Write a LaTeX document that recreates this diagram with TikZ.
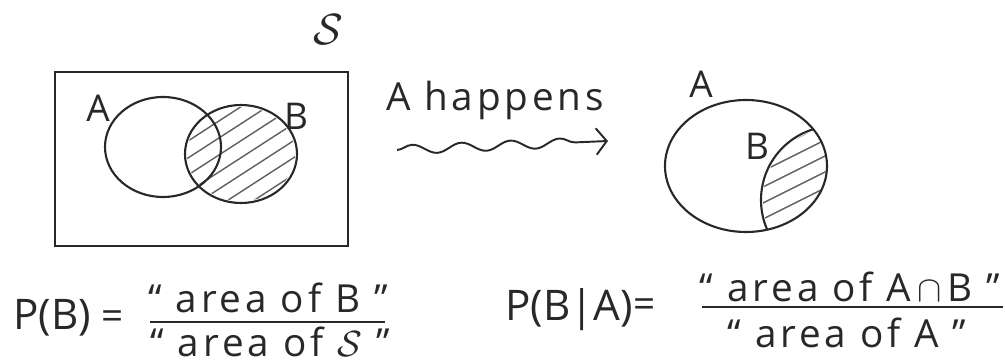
\documentclass[tikz,border=0pt]{standalone}
\usepackage{fontspec}
\setmainfont{Open Sans}
\usepackage{xcolor}
\usepackage{tikz}
\usetikzlibrary{arrows.meta,positioning,decorations.pathmorphing,calc}
\definecolor{pencil}   {RGB}{40,40,40}
\definecolor{hatchgray}{RGB}{95,95,95}
\tikzset{
  setline/.style  ={draw=pencil, line width=1.2pt},
  hatchline/.style={draw=hatchgray, line width=0.8pt},
  setlabel/.style ={font=\fontsize{21}{24}\selectfont, text=pencil, inner sep=0pt},
  handtxt/.style  ={font=\fontsize{22}{26}\selectfont\addfontfeature{LetterSpace=10},
                    text=pencil, inner sep=0pt},
  fracbar/.style  ={draw=pencil, line width=1pt},
  wavyarr/.style  ={draw=pencil, line width=1.1pt, decorate,
                    decoration={snake, amplitude=2.6pt, segment length=28pt, post length=8pt},
                    -{Straight Barb[length=6pt,width=15pt]}},
}

\begin{document}
\begin{tikzpicture}[x=0.02cm,y=-0.02cm]
  \useasboundingbox (0,0) rectangle (1005,364);
  %% sample space with A and B
  \node[setlabel, font=\fontsize{30}{32}\selectfont] (Slbl) at (328,30) {$\mathcal{S}$};
  \draw[setline] (55,72) rectangle (348,246);
  \coordinate (cA) at (163,147);
  \coordinate (cB) at (241,154);
  \begin{scope}
    \clip (cB) ellipse [x radius=54, y radius=47];
    \foreach \k in {0,...,10}
      \draw[hatchline] ($(cB)+(-70,30-\k*17+70)$) -- ++(150,-97);
  \end{scope}
  \draw[setline] (cA) ellipse [x radius=58, y radius=50];
  \draw[setline] (cB) ellipse [x radius=56, y radius=49];
  \node[setlabel] (Albl) at (98,108) {A};
  \node[setlabel] (Blbl) at (296,116) {B};

  %% conditioning arrow
  \node[handtxt] (happens) at (495,100) {A happens};
  \coordinate (wavS) at (397,150);
  \coordinate (wavE) at (608,141);
  \draw[wavyarr] (wavS) -- (wavE);

  %% A as new sample space
  \coordinate (cA2) at (746,166);
  \coordinate (cB2) at (835,200);
  \begin{scope}
    \clip (cA2) ellipse [x radius=80, y radius=65];
    \clip (cB2) circle [radius=72];
    \foreach \k in {0,...,8}
      \draw[hatchline] ($(cB2)+(-110,70-\k*16)$) -- ++(150,-75);
  \end{scope}
  \begin{scope}
    \clip (cA2) ellipse [x radius=81, y radius=66];
    \draw[setline] (cB2) circle [radius=74];
  \end{scope}
  \draw[setline] (cA2) ellipse [x radius=81, y radius=66];
  \node[setlabel] (A2lbl) at (701,84) {A};
  \node[setlabel] (B2lbl) at (757,146) {B};

  %% P(B)
  \node[handtxt, font=\fontsize{24}{28}\selectfont] (PB) at (52,318) {P(B)};
  \node[handtxt] (eq1) at (113,320) {=};
  \node[handtxt] (numB) at (268,298) {“ area of B ”};
  \node[handtxt] (denS) at (270,342) {“ area of $\mathcal{S}$ ”};
  \draw[fracbar] (150,322) -- (385,322);

  %% P(B|A)
  \node[handtxt, font=\fontsize{24}{28}\selectfont] (PBA) at (569,310) {P(B|A)};
  \node[handtxt] (eq2) at (645,308) {=};
  \node[handtxt] (numAB) at (850,287) {“ area of A$\,\cap\,$B ”};
  \node[handtxt] (denA) at (847,333) {“ area of A ”};
  \draw[fracbar] (702,307) -- (1003,307);
\end{tikzpicture}
\end{document}
